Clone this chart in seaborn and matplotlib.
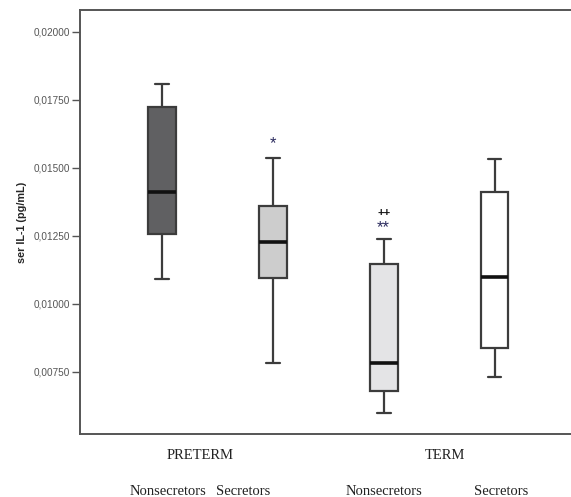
import matplotlib
matplotlib.use('Agg')
import matplotlib.pyplot as plt
import seaborn as sns
import pandas as pd

# five-number summaries: min, Q1, median, Q3, max
groups = ["PRETERM Nonsecretors", "PRETERM Secretors", "TERM Nonsecretors", "TERM Secretors"]
preterm_nonsec = [0.01092, 0.01257, 0.01412, 0.01724, 0.01808]
preterm_sec = [0.00783, 0.01096, 0.01228, 0.01360, 0.01537]
term_nonsec = [0.00600, 0.00680, 0.00783, 0.01148, 0.01239]
term_sec = [0.00732, 0.00836, 0.01100, 0.01413, 0.01534]

box_colors = ["#606062", "#cdcdcd", "#e4e4e6", "#ffffff"]
outer_labels = ["PRETERM", "TERM"]
inner_labels = ["Nonsecretors", "Secretors", "Nonsecretors", "Secretors"]
yticks = [0.0075, 0.01, 0.0125, 0.015, 0.0175, 0.02]

rows = []
for g, vals in zip(groups, [preterm_nonsec, preterm_sec, term_nonsec, term_sec]):
    for v in vals:
        rows.append({"group": g, "value": v})
df = pd.DataFrame(rows)

sns.set_style("white")
plt.rcParams['font.family'] = ['Liberation Sans', 'DejaVu Sans']

fig = plt.figure(figsize=(5.71, 4.97), dpi=100)
ax = fig.add_axes([0.140, 0.127, 0.86, 0.853])

sns.boxplot(data=df, x="group", y="value", hue="group", order=groups,
            palette=box_colors, width=0.25, whis=(0, 100), legend=False,
            linecolor="#3c3c3c", linewidth=1.6,
            medianprops=dict(color="#111111", linewidth=2.6),
            ax=ax)

ax.set_xlim(-0.74, 3.69)
ax.set_ylim(0.00522, 0.02081)
ax.set_yticks(yticks)
ax.set_yticklabels([f"{t:.5f}".replace(".", ",") for t in yticks],
                   fontsize=7.2, color="#555555")
ax.tick_params(axis="y", direction="out", length=6, width=1, color="#555555",
               left=True, pad=1)
ax.set_xticks([])
ax.set_xlabel("")
ax.set_ylabel("ser IL-1 (pg/mL)", fontsize=7.8, fontweight="bold", labelpad=5)

for side in ["left", "bottom", "top"]:
    ax.spines[side].set_color("#555555")
    ax.spines[side].set_linewidth(1.4)
ax.spines["right"].set_visible(False)

# significance marks
ax.text(1, 0.0159, "*", ha="center", va="center", fontsize=12, color="#2b2b5e")
ax.text(2, 0.0128, "**", ha="center", va="center", fontsize=12, color="#2b2b5e")
ax.text(2, 0.01335, "++", ha="center", va="center", fontsize=8, fontweight="bold", color="#111111")

# group labels under the axis
serif = ['Liberation Serif', 'DejaVu Serif']
trans = ax.get_xaxis_transform()
for x, lab in zip([0.34, 2.55], outer_labels):
    ax.text(x, -0.05, lab, ha="center", va="center", fontsize=10.5,
            family=serif, color="#222222", transform=trans)
for x, lab in zip([0.05, 0.73, 2.0, 3.06], inner_labels):
    ax.text(x, -0.135, lab, ha="center", va="center", fontsize=10.5,
            family=serif, color="#222222", transform=trans)

fig.savefig("out.png", dpi=100)
